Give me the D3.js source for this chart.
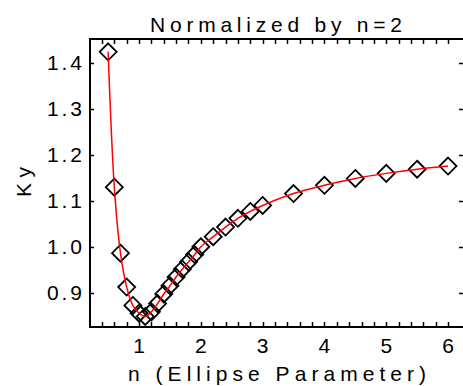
<html>
<head>
<style>
body { margin: 0; background: #fff; }
text { font-family: "Liberation Sans", "DejaVu Sans", sans-serif; fill: #000; }
</style>
</head>
<body>
<div id=chart></div>
<script src="https://cdn.jsdelivr.net/npm/d3@7"></script>
<script>
// values
var nValues = [0.5, 0.6, 0.7, 0.8, 0.9, 1.0, 1.1, 1.2, 1.3, 1.4, 1.5, 1.6, 1.7, 1.8, 1.9, 2.0,
               2.2, 2.4, 2.6, 2.8, 3.0, 3.5, 4.0, 4.5, 5.0, 5.5, 6.0];
var kyValues = [1.425, 1.130, 0.986, 0.912, 0.872, 0.855, 0.848, 0.858, 0.876, 0.897, 0.915, 0.934, 0.951, 0.967, 0.983, 1.000,
                1.022, 1.043, 1.062, 1.077, 1.090, 1.116, 1.134, 1.149, 1.160, 1.169, 1.176];
var xTickLabels = [1, 2, 3, 4, 5, 6];
var yTickLabels = [0.9, 1.0, 1.1, 1.2, 1.3, 1.4];

var W = 463, H = 386;
var mLeft = 90, mTop = 39, mBottom = 327, mRight = 464;

var svg = d3.select("#chart").append("svg").attr("width", W).attr("height", H);

var x = d3.scaleLinear().domain([0.2, 6.2]).range([89.6, 460.4]);
var y = d3.scaleLinear().domain([0.825, 1.453]).range([mBottom, mTop]);

var pts = nValues.map(function (n, i) { return [n, kyValues[i]]; });

// diamonds
var r = 8.5;
svg.append("g").selectAll("path").data(pts).enter().append("path")
    .attr("d", function (d) {
        var cx = x(d[0]), cy = y(d[1]);
        return "M" + cx + "," + (cy - r) + "L" + (cx + r) + "," + cy + "L" + cx + "," + (cy + r) + "L" + (cx - r) + "," + cy + "Z";
    })
    .attr("fill", "none").attr("stroke", "#000").attr("stroke-width", 1.8);

// red fit line (smooth curve through the points)
svg.append("path").datum(pts)
    .attr("d", d3.line().x(function (d) { return x(d[0]); }).y(function (d) { return y(d[1]); }).curve(d3.curveCatmullRom.alpha(0.5)))
    .attr("fill", "none").attr("stroke", "#f00").attr("stroke-width", 1.5);

// frame
svg.append("rect").attr("x", mLeft).attr("y", mTop).attr("width", mRight - mLeft).attr("height", mBottom - mTop)
    .attr("fill", "none").attr("stroke", "#000").attr("stroke-width", 2);

// x minor ticks every 0.2, top and bottom; y ticks at labels
var xt = d3.range(0.4, 6.2, 0.2);
var tg = svg.append("g").attr("stroke", "#000").attr("stroke-width", 1.5);
xt.forEach(function (t) {
    var px = Math.round(x(t)) + 0.5;
    tg.append("line").attr("x1", px).attr("x2", px).attr("y1", mBottom).attr("y2", mBottom - 5);
    tg.append("line").attr("x1", px).attr("x2", px).attr("y1", mTop).attr("y2", mTop + 5);
});
yTickLabels.forEach(function (t) {
    var py = Math.round(y(t)) + 0.5;
    tg.append("line").attr("x1", mLeft).attr("x2", mLeft + 4).attr("y1", py).attr("y2", py);
    tg.append("line").attr("x1", 459).attr("x2", 463).attr("y1", py).attr("y2", py);
});

// tick labels
svg.append("g").selectAll("text").data(xTickLabels).enter().append("text")
    .attr("x", function (d) { return x(d); }).attr("y", 353)
    .attr("text-anchor", "middle").attr("font-size", 21)
    .text(function (d) { return d; });

svg.append("g").selectAll("text").data(yTickLabels).enter().append("text")
    .attr("x", 82).attr("y", function (d) { return y(d) + 7; })
    .attr("text-anchor", "end").attr("font-size", 21).attr("textLength", 35).attr("lengthAdjust", "spacing")
    .text(function (d) { return d.toFixed(1); });

// titles
svg.append("text").attr("x", 276).attr("y", 32).attr("text-anchor", "middle")
    .attr("font-size", 21).attr("textLength", 252).attr("lengthAdjust", "spacing")
    .text("Normalized by n=2");

svg.append("text").attr("x", 277).attr("y", 381).attr("text-anchor", "middle")
    .attr("font-size", 21).attr("textLength", 298).attr("lengthAdjust", "spacing")
    .text("n (Ellipse Parameter)");

svg.append("text").attr("transform", "translate(31,182) rotate(-90)").attr("text-anchor", "middle")
    .attr("font-size", 21).attr("textLength", 30).attr("lengthAdjust", "spacing")
    .text("Ky");
</script>
</body>
</html>
